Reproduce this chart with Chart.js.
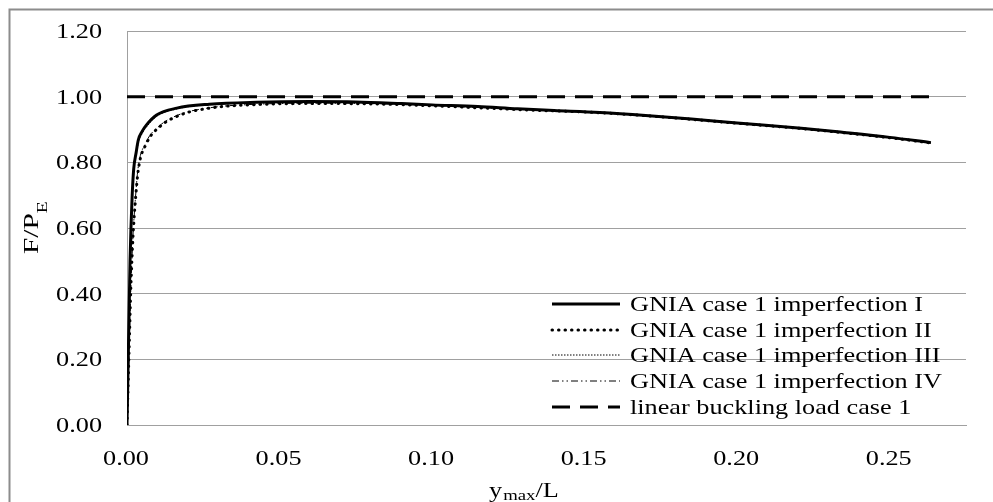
<!DOCTYPE html>
<html>
<head>
<meta charset="utf-8">
<script src="https://cdn.jsdelivr.net/npm/chart.js@4.4.1/dist/chart.umd.min.js"></script>
<style>
    html, body { margin: 0; padding: 0; background: #fff; }
    #box { width: 993px; height: 502px; position: relative; }
</style>
</head>
<body>
<div id="box"><canvas id="grafico"></canvas></div>
<script>
// GNIA case 1 imperfection I (continua)
const xI = [0, 0.0002, 0.0004, 0.0006, 0.0008, 0.001, 0.0013, 0.0017, 0.0022, 0.003, 0.0037, 0.005, 0.0064, 0.0097, 0.0163, 0.027, 0.0425, 0.06, 0.075, 0.09, 0.10, 0.115, 0.128, 0.14, 0.155, 0.17, 0.185, 0.20, 0.221, 0.235, 0.25, 0.2635];
const yI = [0, 0.10, 0.20, 0.30, 0.40, 0.50, 0.60, 0.70, 0.78, 0.83, 0.868, 0.895, 0.914, 0.944, 0.965, 0.977, 0.983, 0.985, 0.984, 0.979, 0.975, 0.970, 0.963, 0.958, 0.952, 0.943, 0.932, 0.920, 0.904, 0.891, 0.876, 0.860];

// GNIA case 1 imperfection II (puntini grossi)
const xII = [0, 0.0003, 0.0006, 0.0009, 0.0012, 0.0016, 0.002, 0.0026, 0.0037, 0.0064, 0.0108, 0.0174, 0.027, 0.0425, 0.06, 0.08, 0.10, 0.13, 0.155, 0.17, 0.185, 0.20, 0.221, 0.235, 0.25, 0.2635];
const yII = [0, 0.10, 0.20, 0.30, 0.40, 0.50, 0.58, 0.665, 0.777, 0.858, 0.909, 0.944, 0.965, 0.976, 0.979, 0.978, 0.972, 0.960, 0.951, 0.942, 0.931, 0.919, 0.903, 0.890, 0.875, 0.859];

// GNIA case 1 imperfection III (puntini sottili)
const xIII = [0, 0.0002, 0.0004, 0.0006, 0.0008, 0.001, 0.0013, 0.0017, 0.0022, 0.003, 0.0038, 0.0051, 0.0066, 0.0099, 0.0165, 0.027, 0.0425, 0.06, 0.075, 0.09, 0.10, 0.128, 0.155, 0.185, 0.20, 0.221, 0.25, 0.2635];
const yIII = [0, 0.10, 0.20, 0.30, 0.40, 0.50, 0.60, 0.70, 0.775, 0.825, 0.862, 0.89, 0.91, 0.941, 0.963, 0.976, 0.982, 0.984, 0.983, 0.978, 0.974, 0.962, 0.951, 0.931, 0.919, 0.903, 0.875, 0.859];

// GNIA case 1 imperfection IV (tratto-punto-punto)
const xIV = [0, 0.0003, 0.0006, 0.0009, 0.0012, 0.0016, 0.002, 0.0026, 0.0036, 0.0062, 0.0105, 0.017, 0.027, 0.0425, 0.06, 0.08, 0.10, 0.13, 0.155, 0.185, 0.20, 0.221, 0.25, 0.2635];
const yIV = [0, 0.10, 0.20, 0.30, 0.40, 0.50, 0.585, 0.67, 0.78, 0.86, 0.91, 0.945, 0.966, 0.977, 0.98, 0.979, 0.973, 0.961, 0.951, 0.931, 0.919, 0.903, 0.875, 0.859];

// carico critico lineare
const xLin = [0, 0.2635];
const yLin = [1, 1];

const legendLabels = [
    'GNIA case 1 imperfection I',
    'GNIA case 1 imperfection II',
    'GNIA case 1 imperfection III',
    'GNIA case 1 imperfection IV',
    'linear buckling load case 1'
];
const xTickLabels = ['0.00', '0.05', '0.10', '0.15', '0.20', '0.25'];
const yTickLabels = ['0.00', '0.20', '0.40', '0.60', '0.80', '1.00', '1.20'];

const FONT = "'Liberation Serif', 'Times New Roman', serif";
const SX = 1.25; // il testo originale e' stirato in orizzontale

function punti(xs, ys) {
    return xs.map((x, i) => ({ x: x, y: ys[i] }));
}

function testo(ctx, str, x, y, align, size) {
    ctx.save();
    ctx.font = size + 'px ' + FONT;
    ctx.translate(x, y);
    ctx.scale(SX, 1);
    ctx.textAlign = align;
    ctx.textBaseline = 'alphabetic';
    ctx.fillStyle = '#000';
    ctx.fillText(str, 0, 0);
    ctx.restore();
}

//cornice esterna
const cornice = {
    id: 'cornice',
    beforeDraw(chart) {
        const ctx = chart.ctx;
        ctx.save();
        ctx.strokeStyle = '#8c8c8c';
        ctx.lineWidth = 2;
        ctx.strokeRect(9.5, 9.5, 1200, 1200);
        ctx.restore();
    }
};

//etichette, titoli assi e legenda
const testi = {
    id: 'testi',
    afterDraw(chart) {
        const ctx = chart.ctx;
        const sx = chart.scales.x;
        const sy = chart.scales.y;

        yTickLabels.forEach(lab => {
            const py = sy.getPixelForValue(parseFloat(lab));
            testo(ctx, lab, 102, py + 7, 'right', 21);
        });
        xTickLabels.forEach(lab => {
            const px = sx.getPixelForValue(parseFloat(lab));
            testo(ctx, lab, px - 1, 465, 'center', 21);
        });

        // titolo asse x: y_max/L
        let cx = 489;
        ctx.font = '21px ' + FONT;
        testo(ctx, 'y', cx, 497, 'left', 21);
        cx += ctx.measureText('y').width * SX + 1;
        ctx.font = '15px ' + FONT;
        testo(ctx, 'max', cx, 500, 'left', 15);
        cx += ctx.measureText('max').width * SX;
        testo(ctx, '/L', cx, 497, 'left', 21);

        // titolo asse y: F/P_E
        ctx.save();
        ctx.translate(38, 254);
        ctx.rotate(-Math.PI / 2);
        ctx.scale(1.4, 1);
        ctx.fillStyle = '#000';
        ctx.textBaseline = 'alphabetic';
        ctx.textAlign = 'left';
        ctx.font = '21px ' + FONT;
        ctx.fillText('F/P', 0, 0);
        const w = ctx.measureText('F/P').width;
        ctx.font = '14px ' + FONT;
        ctx.fillText('E', w, 9);
        ctx.restore();

        // legenda
        const righe = [304, 330, 355, 381, 407];
        chart.data.datasets.forEach((ds, i) => {
            const ly = righe[i];
            ctx.save();
            ctx.strokeStyle = ds.borderColor;
            ctx.lineWidth = ds.borderWidth;
            ctx.lineCap = ds.borderCapStyle || 'butt';
            ctx.setLineDash(ds.borderDash || []);
            ctx.beginPath();
            ctx.moveTo(552, ly);
            ctx.lineTo(620, ly);
            ctx.stroke();
            ctx.restore();
            testo(ctx, legendLabels[i], 630, ly + 7, 'left', 21);
        });
    }
};

function creaGrafico() {
    const canvas = document.getElementById('grafico');

    const base = {
        showLine: true,
        pointRadius: 0,
        pointHoverRadius: 0,
        fill: false,
        borderColor: '#000',
        cubicInterpolationMode: 'monotone'
    };

    const datasets = [
        Object.assign({}, base, { label: legendLabels[0], data: punti(xI, yI), borderWidth: 3 }),
        Object.assign({}, base, { label: legendLabels[1], data: punti(xII, yII), borderWidth: 3, borderDash: [0.5, 6], borderCapStyle: 'round' }),
        Object.assign({}, base, { label: legendLabels[2], data: punti(xIII, yIII), borderWidth: 1, borderDash: [1.5, 1.5] }),
        Object.assign({}, base, { label: legendLabels[3], data: punti(xIV, yIV), borderWidth: 1, borderDash: [7, 3, 1.5, 3, 1.5, 3] }),
        Object.assign({}, base, { label: legendLabels[4], data: punti(xLin, yLin), borderWidth: 3, borderDash: [18, 10], cubicInterpolationMode: 'default' })
    ];

    new Chart(canvas.getContext('2d'), {
        type: 'scatter',
        data: { datasets: datasets },
        options: {
            responsive: true,
            maintainAspectRatio: false,
            animation: false,
            events: [],
            layout: { padding: { top: 31, right: 27, left: 0, bottom: 0 } },
            plugins: {
                legend: { display: false },
                tooltip: { enabled: false }
            },
            scales: {
                x: {
                    type: 'linear',
                    min: 0,
                    max: 0.275,
                    ticks: { display: false, stepSize: 0.05 },
                    grid: { display: false },
                    border: { display: true, color: '#a0a0a0', width: 1 },
                    afterFit: s => { s.height = 77; }
                },
                y: {
                    type: 'linear',
                    min: 0,
                    max: 1.2,
                    ticks: { display: false, stepSize: 0.2 },
                    grid: { color: '#a0a0a0', lineWidth: 1, drawTicks: false },
                    border: { display: true, color: '#a0a0a0', width: 1 },
                    afterFit: s => { s.width = 127; }
                }
            }
        },
        plugins: [cornice, testi]
    });
}

document.addEventListener('DOMContentLoaded', creaGrafico);
</script>
</body>
</html>
